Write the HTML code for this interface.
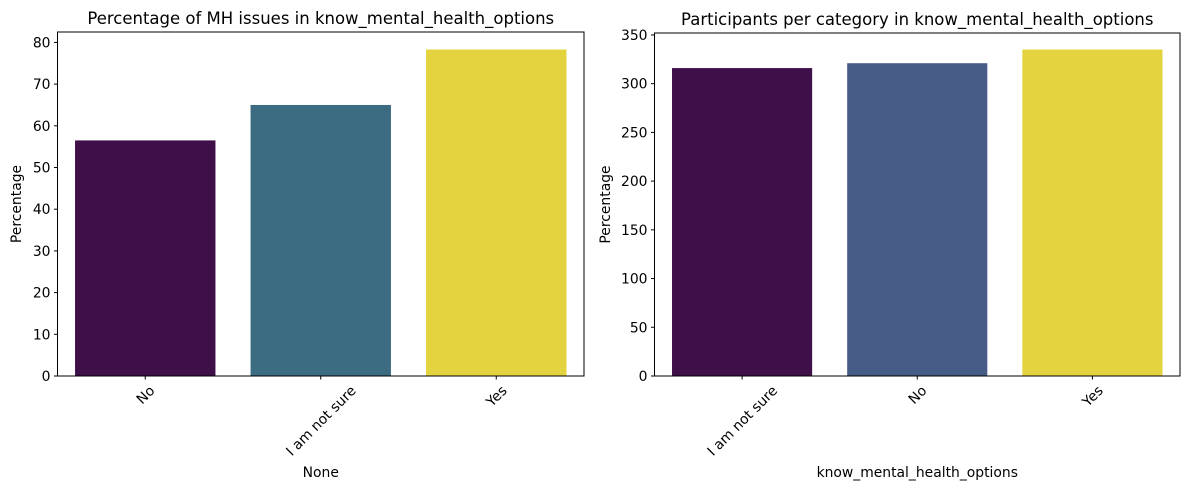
<!DOCTYPE html>
<html><head><meta charset="utf-8"><style>
body{margin:0;background:#fff;}
svg{display:block;font-family:"DejaVu Sans","Liberation Sans",sans-serif;}
</style></head><body>
<svg id="c" width="1189" height="490"></svg>
<script>
const leftCats=["No","I am not sure","Yes"];
const leftVals=[56.5,65.0,78.3];
const leftTicks=[0,10,20,30,40,50,60,70,80];
const rightCats=["I am not sure","No","Yes"];
const rightVals=[316,321,335];
const rightTicks=[0,50,100,150,200,250,300,350];
const leftColors=["#3f0f4a","#3b6c82","#e3d33f"];
const rightColors=["#3f0f4a","#465b85","#e3d33f"];
const svg=document.getElementById('c');
const NS="http://www.w3.org/2000/svg";
function mk(t,a,p){const e=document.createElementNS(NS,t);for(const k in a)e.setAttribute(k,a[k]);(p||svg).appendChild(e);return e;}
function panel(cfg){
 const g=mk('g',{});
 
 
 const {x0,x1,y0,y1,ymax}=cfg;
 const ys=v=>y1-(v/ymax)*(y1-y0);
 const band=(x1-x0)/cfg.cats.length;
 const xs=i=>x0+band*(i+0.5);
 cfg.vals.forEach((v,i)=>{
  const r=mk('rect',{x:xs(i)-band*0.4,y:ys(v),width:band*0.8,height:y1-ys(v),fill:cfg.colors[i]},g);
  
  
 });
 mk('rect',{x:x0,y:y0,width:x1-x0,height:y1-y0,fill:'none',stroke:'#000','stroke-width':1},g);
 cfg.ticks.forEach(t=>{
  const y=ys(t);
  mk('line',{x1:x0-3.5,x2:x0,y1:y,y2:y,stroke:'#000'},g);
  const tx=mk('text',{x:x0-7,y:y+5,'font-size':13.9,'text-anchor':'end'},g);
  tx.textContent=t;
  
  
 });
 cfg.cats.forEach((c,i)=>{
  const x=xs(i);
  mk('line',{x1:x,x2:x,y1:y1,y2:y1+3.5,stroke:'#000'},g);
  const tx=mk('text',{x:0,y:0,'font-size':13.9,'text-anchor':'middle'},g);
  tx.textContent=c;
  const L=tx.getComputedTextLength();
  const cy=y1+7+(L+14)*0.7071/2;
  tx.setAttribute('x',x);
  tx.setAttribute('y',cy+5);
  tx.setAttribute('transform',`rotate(-45 ${x} ${cy})`);
  
  
 });
 const t=mk('text',{x:(x0+x1)/2,y:y0-8,'font-size':16.5,'text-anchor':'middle'},g);
 t.textContent=cfg.title;
 
 
 const yl=mk('text',{x:0,y:0,'font-size':13.9,'text-anchor':'middle',transform:`translate(${cfg.ylx} ${(y0+y1)/2}) rotate(-90)`},g);
 yl.textContent='Percentage';
 
 
 const xl=mk('text',{x:(x0+x1)/2,y:477,'font-size':13.9,'text-anchor':'middle'},g);
 xl.textContent=cfg.xlabel;
 
 
}
panel({name:'left-chart',x0:57.5,x1:584,y0:32,y1:376,ymax:82.5,cats:leftCats,vals:leftVals,ticks:leftTicks,colors:leftColors,title:'Percentage of MH issues in know_mental_health_options',xlabel:'None',ylx:21});
panel({name:'right-chart',x0:654.5,x1:1180,y0:33,y1:376,ymax:352,cats:rightCats,vals:rightVals,ticks:rightTicks,colors:rightColors,title:'Participants per category in know_mental_health_options',xlabel:'know_mental_health_options',ylx:610});
</script>
</body></html>
